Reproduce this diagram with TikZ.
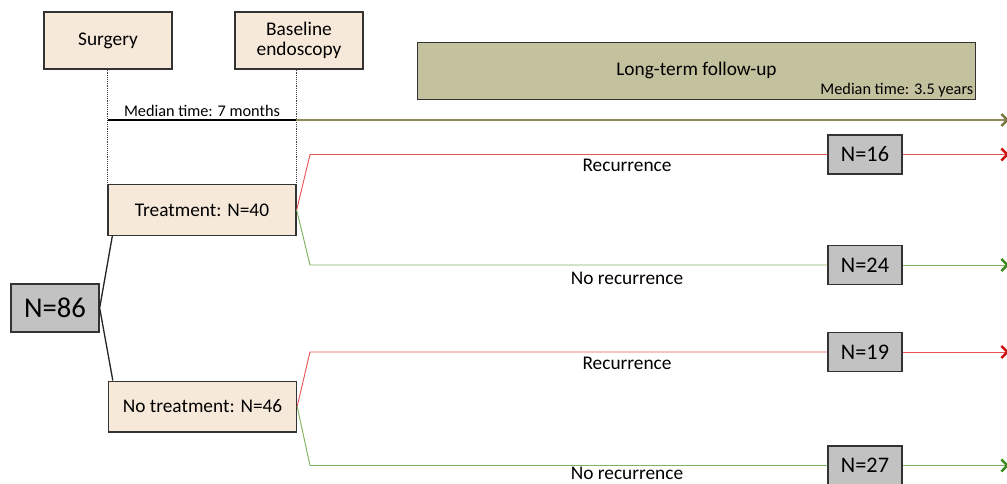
\documentclass[tikz,border=0pt]{standalone}
\usepackage{fontspec}
\setmainfont{Carlito}
\usetikzlibrary{arrows.meta}

\definecolor{beige}{HTML}{F6E9DA}
\definecolor{olivebox}{HTML}{C4C19E}
\definecolor{oliveline}{HTML}{8E8B5C}
\definecolor{olivetip}{HTML}{7A7743}
\definecolor{recline}{HTML}{E85555}
\definecolor{rectip}{HTML}{D01010}
\definecolor{norecline}{HTML}{80B25C}
\definecolor{norectip}{HTML}{3C8A1E}
\definecolor{countgrey}{HTML}{C2C2C2}

\tikzset{
  phase/.style={draw=black!80,line width=1pt,fill=beige,minimum width=96pt,minimum height=42.75pt,align=center,font=\fontsize{14.5}{15.5}\selectfont,inner sep=0pt},
  group/.style={draw=black!80,line width=1pt,fill=beige,minimum width=141pt,minimum height=38pt,font=\fontsize{14.5}{15.5}\selectfont,inner sep=0pt},
  count/.style={draw=black!80,line width=1pt,fill=countgrey,minimum width=55.5pt,minimum height=29.25pt,font=\fontsize{16.7}{18}\selectfont,inner sep=0pt},
  outcome/.style={font=\fontsize{14.5}{15.5}\selectfont,inner sep=0pt},
  small/.style={font=\fontsize{12.2}{13}\selectfont},
  tip/.style={-{Straight Barb[length=4.5pt,width=9pt,line width=1.8pt,color=#1]}},
  rec/.style={recline,line width=0.7pt,tip=rectip},
  norec/.style={norecline,line width=0.7pt,tip=norectip}
}

\begin{document}
\begin{tikzpicture}[x=0.75pt,y=-0.75pt]
\useasboundingbox (0,0) rectangle (1007,483);

% timeline headers
\node[phase] (surg) at (108,40.5) {Surgery};
\node[phase] (base) at (299,40.5) {Baseline\\endoscopy};
\node[draw=black!80,line width=1pt,fill=olivebox,minimum width=418.5pt,minimum height=42.75pt,inner sep=0pt,font=\fontsize{14.5}{15.5}\selectfont] (follow) at (696.5,70.75) {Long-term follow-up};
\node[small,anchor=south east,inner sep=2pt] (fmed) at (follow.south east) {Median time: 3.5 years};

% groups
\node[count,minimum width=66pt,minimum height=36pt,font=\fontsize{21.5}{23}\selectfont] (all) at (55,308) {N=86};
\node[group] (treat) at (202,210) {Treatment: N=40};
\node[group] (notreat) at (202.5,406.5) {No treatment: N=46};

% counts
\node[count] (c16) at (865,154.5) {N=16};
\node[count] (c24) at (865,265) {N=24};
\node[count] (c19) at (865,352) {N=19};
\node[count] (c27) at (865,465.5) {N=27};

% time line
\coordinate (m0) at (108,120);
\coordinate (m1) at (296,120);
\coordinate (mend) at (1009,120);
\draw[densely dotted,black!75,thin] (treat.north west |- surg.south) -- (treat.north west);
\draw[densely dotted,black!75,thin] (treat.north east |- base.south) -- (treat.north east);
\draw[line width=1.6pt] (m0) -- node[small,above,inner sep=2pt] (mmed) {Median time: 7 months} (m1);
\draw[oliveline,line width=1.2pt,tip=olivetip] (m1) -- (mend);

% branches
\draw[black!85,line width=1pt] ([xshift=3.75pt]treat.south west) -- (all.east) -- ([xshift=3.75pt]notreat.north west);
\coordinate (e16) at (1009,154.5);
\coordinate (e24) at (1009,265);
\coordinate (e19) at (1009,352);
\coordinate (e27) at (1009,465.5);
\draw[rec,-] (treat.east) -- (310,154.5) -- (c16.west);
\draw[rec] (c16.east) -- (e16);
\draw[norec,-] (treat.east) -- (310,265) -- (c24.west);
\draw[norec] (c24.east) -- (e24);
\draw[rec,-] (notreat.east) -- (310,352) -- (c19.west);
\draw[rec] (c19.east) -- (e19);
\draw[norec,-] (notreat.east) -- (310,465.5) -- (c27.west);
\draw[norec] (c27.east) -- (e27);

% outcome labels
\node[outcome] (r1) at (627,165) {Recurrence};
\node[outcome] (n1) at (627,278) {No recurrence};
\node[outcome] (r2) at (627,363) {Recurrence};
\node[outcome] (n2) at (627,473) {No recurrence};

\end{tikzpicture}
\end{document}
